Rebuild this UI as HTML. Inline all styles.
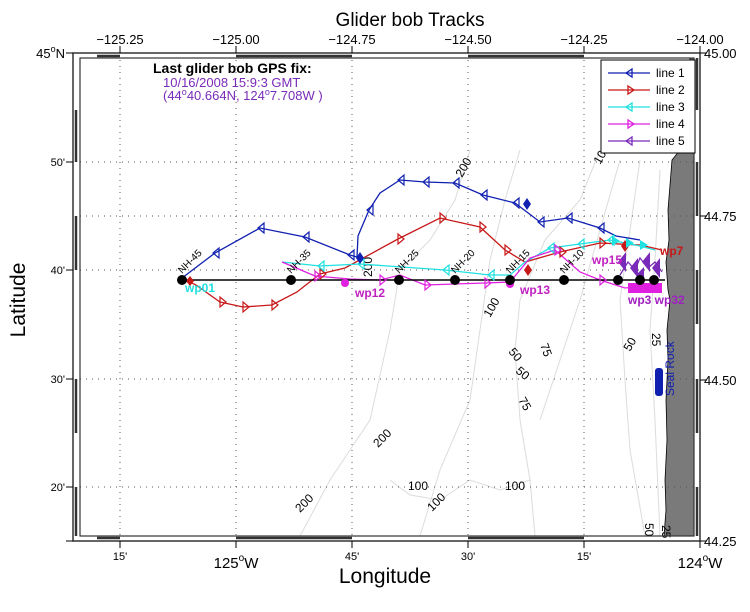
<!DOCTYPE html>
<html><head><meta charset="utf-8"><style>body{margin:0;background:#fff}svg{display:block;font-family:"Liberation Sans",sans-serif}</style></head><body>
<svg width="750" height="612" viewBox="0 0 750 612" xmlns="http://www.w3.org/2000/svg">
<rect width="750" height="612" fill="#fff"/>
<path d="M672,160 L670,185 L668,210 L669,240 L666,262 L668,290 L670,300 L667,330 L668,360 L666,400 L667,440 L665,480 L666,510 L664,536 L694,536 L694,58 L690,58 L688,120 L680,150 Z" fill="#7a7a7a" stroke="#000" stroke-width="0.8"/>
<g fill="none" stroke="#dcdcdc" stroke-width="1">
<path d="M470,150 L455,200 L430,240 L400,270 L390,330 L370,420 L330,480 L300,536"/>
<path d="M520,150 L505,200 L490,260 L480,330 L470,400 L440,470 L420,536"/>
<path d="M600,150 L580,200 L545,240 L520,300 L515,350 L520,420 L530,480 L535,536"/>
<path d="M620,160 L600,230 L580,300 L560,360 L540,420"/>
<path d="M640,160 L630,230 L620,300 L625,380 L630,450 L645,536"/>
<path d="M660,170 L655,260 L650,330 L655,420 L660,536"/>
<path d="M390,480 L410,495 L440,500 L470,480 L500,490 L530,480"/>
</g>
<g font-size="12" fill="#000">
<text transform="translate(462,178) rotate(-60)">200</text>
<text transform="translate(372,277) rotate(-90)">200</text>
<text transform="translate(490,318) rotate(-60)">100</text>
<text transform="translate(508,352) rotate(50)">50</text>
<text transform="translate(540,345) rotate(70)">75</text>
<text transform="translate(515,372) rotate(40)">50</text>
<text transform="translate(518,400) rotate(60)">75</text>
<text transform="translate(378,448) rotate(-45)">200</text>
<text transform="translate(300,513) rotate(-45)">200</text>
<text x="408" y="490">100</text>
<text transform="translate(432,512) rotate(-45)">100</text>
<text x="505" y="490">100</text>
<text transform="translate(600,165) rotate(-60)">100</text>
<text transform="translate(630,352) rotate(-60)">50</text>
<text transform="translate(652,333) rotate(90)">25</text>
<text transform="translate(645,523) rotate(90)">50</text>
<text transform="translate(662,525) rotate(90)">25</text>
</g>
<g stroke="#555" stroke-width="1" stroke-dasharray="1,5">
<path d="M120,60V536M236,60V536M352,60V536M468,60V536M584,60V536"/>
<path d="M80,162H694M80,216H694M80,270H694M80,379H694M80,487H694"/>
</g>
<rect x="73" y="53" width="627" height="488" fill="none" stroke="#333" stroke-width="1.5"/>
<rect x="80" y="58" width="614" height="478" fill="none" stroke="#333" stroke-width="1.2"/>
<g stroke="#333" stroke-width="2.5">
<path d="M97,56H120M236,56H352M468,56H584"/>
<path d="M97,538H120M236,538H352M468,538H584"/>
<path d="M76,110V162M76,216V270M76,379V433M76,487V536"/>
<path d="M697,58V110M697,162V216M697,270V324M697,379V433M697,487V536"/>
</g>
<g stroke="#000" stroke-width="1">
<path d="M120,46V53M236,46V53M352,46V53M468,46V53M584,46V53M700,46V53"/>
<path d="M120,541V548M236,541V548M352,541V548M468,541V548M584,541V548M700,541V548"/>
<path d="M66,53H73M66,162H73M66,270H73M66,379H73M66,487H73M66,541H73"/>
<path d="M700,53H707M700,216H707M700,380H707M700,541H707"/>
</g>
<g font-size="13" text-anchor="middle">
<text x="120" y="44">−125.25</text><text x="236" y="44">−125.00</text><text x="352" y="44">−124.75</text><text x="468" y="44">−124.50</text><text x="584" y="44">−124.25</text><text x="700" y="44">−124.00</text>
</g>
<g font-size="13"><text x="704" y="58">45.00</text><text x="704" y="221">44.75</text><text x="704" y="385">44.50</text><text x="704" y="546">44.25</text></g>
<g font-size="11" text-anchor="end"><text x="65" y="166">50'</text><text x="65" y="274">40'</text><text x="65" y="383">30'</text><text x="65" y="491">20'</text></g>
<text x="65" y="58" font-size="13" text-anchor="end">45<tspan font-size="9" dy="-6">o</tspan><tspan dy="6">N</tspan></text>
<g font-size="11" text-anchor="middle"><text x="120" y="560">15'</text><text x="352" y="560">45'</text><text x="468" y="560">30'</text><text x="584" y="560">15'</text></g>
<text x="236" y="568" font-size="15" text-anchor="middle">125<tspan font-size="10" dy="-7">o</tspan><tspan dy="7">W</tspan></text>
<text x="700" y="568" font-size="15" text-anchor="middle">124<tspan font-size="10" dy="-7">o</tspan><tspan dy="7">W</tspan></text>
<text x="410" y="26" font-size="19" text-anchor="middle">Glider bob Tracks</text>
<text x="385" y="583" font-size="21" text-anchor="middle">Longitude</text>
<text transform="translate(25,300) rotate(-90)" font-size="21" text-anchor="middle">Latitude</text>
<text x="153" y="73" font-size="14" font-weight="bold">Last glider bob GPS fix:</text>
<text x="163" y="87" font-size="13" fill="#7a2ab8">10/16/2008 15:9:3 GMT</text>
<text x="163" y="100" font-size="13" fill="#7a2ab8">(44<tspan font-size="9" dy="-5">o</tspan><tspan dy="5">40.664N, 124</tspan><tspan font-size="9" dy="-5">o</tspan><tspan dy="5">7.708W )</tspan></text>
<g fill="none" stroke-width="1.3">
<polyline stroke="#1020b0" points="182,278 215,253 260,228 305,237 350,255 357,257 358,236 369,210 380,193 400,180 425,182 455,183 483,195 515,203 540,222 568,218 600,228 616,236 640,240"/>
<polyline stroke="#c81818" points="182,278 196,285 220,302 243,307 272,305 297,292 320,274 345,268 398,239 440,218 480,227 505,250 525,262 560,252 600,243 640,245 662,250"/>
<polyline stroke="#20e0e0" points="282,262 320,266 360,264 445,270 490,275 510,275 525,262 550,248 580,244 610,240 640,246 655,250"/>
<polyline stroke="#e020e0" points="282,262 315,276 350,279 380,280 400,275 425,285 485,283 510,282 530,258 555,250 580,272 600,280 625,288 660,285"/>
<polyline stroke="#7a2ab8" points="620,275 628,262 635,270 640,258 648,268 655,262 662,272"/>
<polyline stroke="#000" stroke-width="1.5" points="182,280 665,280"/>
</g>
<g fill="none" stroke-width="1.2">
<g stroke="#1020b0"><path d="M213,253l6,-5v10z M258,228l6,-5v10z M303,237l6,-5v10z M348,255l6,-5v10z M367,210l6,-5v10z M398,180l6,-5v10z M423,182l6,-5v10z M453,183l6,-5v10z M481,195l6,-5v10z M513,203l6,-5v10z M538,222l6,-5v10z M566,218l6,-5v10z M598,228l6,-5v10z"/></g>
<g stroke="#c81818"><path d="M226,302l-6,-5v10z M249,307l-6,-5v10z M278,305l-6,-5v10z M326,274l-6,-5v10z M404,239l-6,-5v10z M446,218l-6,-5v10z M486,227l-6,-5v10z M511,250l-6,-5v10z M566,252l-6,-5v10z M606,243l-6,-5v10z"/></g>
<g stroke="#20e0e0"><path d="M318,266l6,-5v10z M358,264l6,-5v10z M443,270l6,-5v10z M488,275l6,-5v10z M548,248l6,-5v10z M578,244l6,-5v10z M608,240l6,-5v10z"/></g>
<g stroke="#e020e0"><path d="M321,276l-6,-5v10z M386,280l-6,-5v10z M431,285l-6,-5v10z M491,283l-6,-5v10z M561,250l-6,-5v10z M606,280l-6,-5v10z"/></g>
</g>
<g fill="#1020b0"><path d="M527,198l4,6l-4,6l-4,-6z M360,252l4,6l-4,6l-4,-6z"/><rect x="655" y="368" width="8" height="28" rx="3"/></g>
<g fill="#c81818"><path d="M528,264l4,6l-4,6l-4,-6z M190,276l4,5l-4,5l-4,-5z M625,240l4,6l-4,6l-4,-6z"/></g>
<g fill="#20e0e0"><path d="M612,236l8,5l-8,5z M626,238l8,5l-8,5z M640,240l8,5l-8,5z"/></g>
<g fill="#7a2ab8"><path d="M618,262l8,-10v20z M630,268l8,-10v20z M642,262l8,-10v20z M652,268l8,-10v20z M636,275l8,-8v16z"/></g>
<g fill="#e020e0"><path d="M628,283h34v10h-34z"/><circle cx="345" cy="283" r="4"/><circle cx="510" cy="284" r="4"/></g>
<g fill="#000"><circle cx="182" cy="280" r="5"/><circle cx="291" cy="280" r="5"/><circle cx="399" cy="280" r="5"/><circle cx="455" cy="280" r="5"/><circle cx="510" cy="280" r="5"/><circle cx="564" cy="280" r="5"/><circle cx="618" cy="280" r="5"/><circle cx="640" cy="280" r="5"/><circle cx="654" cy="280" r="5"/></g>
<g font-size="10"><text transform="translate(182,274) rotate(-45)">NH-45</text><text transform="translate(291,274) rotate(-45)">NH-35</text><text transform="translate(399,274) rotate(-45)">NH-25</text><text transform="translate(455,274) rotate(-45)">NH-20</text><text transform="translate(510,274) rotate(-45)">NH-15</text><text transform="translate(564,274) rotate(-45)">NH-10</text></g>
<g font-size="12" font-weight="bold">
<text x="185" y="292" fill="#20e0e0">wp01</text>
<text x="355" y="297" fill="#c020c0">wp12</text>
<text x="520" y="294" fill="#c020c0">wp13</text>
<text x="592" y="264" fill="#c020c0">wp15</text>
<text x="628" y="304" fill="#a020c0">wp3 wp32</text>
<text x="660" y="255" fill="#c81818">wp7</text>
</g>
<text transform="translate(674,396) rotate(-90)" font-size="12" fill="#1020b0">Seal Rock</text>
<rect x="601" y="60" width="94" height="93" fill="#fff" stroke="#000" stroke-width="1"/>
<g font-size="12">
<g stroke-width="1.3" fill="none">
<path d="M608,73H650" stroke="#1020b0"/><path d="M626,73l6,-4v8z" stroke="#1020b0"/>
<path d="M608,90H650" stroke="#c81818"/><path d="M634,90l-6,-4v8z" stroke="#c81818"/>
<path d="M608,107H650" stroke="#20e0e0"/><path d="M626,107l6,-4v8z" stroke="#20e0e0"/>
<path d="M608,124H650" stroke="#e020e0"/><path d="M634,124l-6,-4v8z" stroke="#e020e0"/>
<path d="M608,141H650" stroke="#7a2ab8"/><path d="M626,141l6,-4v8z" stroke="#7a2ab8"/>
</g>
<text x="656" y="77">line 1</text><text x="656" y="94">line 2</text><text x="656" y="111">line 3</text><text x="656" y="128">line 4</text><text x="656" y="145">line 5</text>
</g>
</svg>
</body></html>
